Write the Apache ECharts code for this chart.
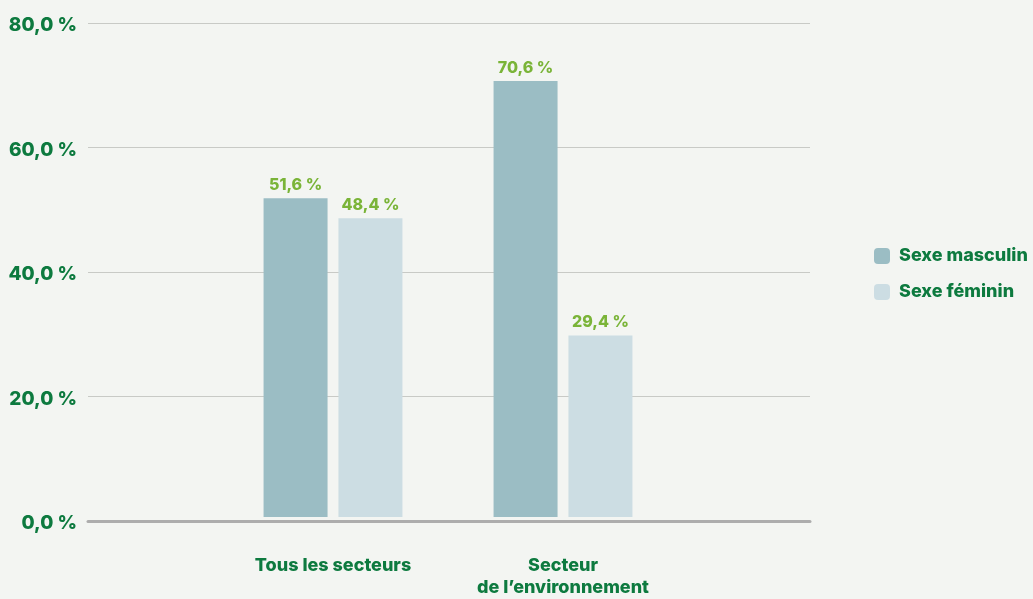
<!DOCTYPE html>
<html>
<head>
  <meta charset="utf-8">
  <title>ECharts</title>
  <script src="https://cdn.jsdelivr.net/npm/echarts@6/dist/echarts.min.js"></script>
  <style>
    html, body { margin: 0; padding: 0; background: #f3f5f2; }
  </style>
</head>
<body>
<div id="main" style="width: 1033px;height:599px;"></div>
<script type="text/javascript">
  var categories = ['Tous les secteurs', 'Secteur\nde l\u2019environnement'];
  var masculin = [51.6, 70.6];
  var feminin = [48.4, 29.4];
  var seriesNames = ['Sexe masculin', 'Sexe féminin'];

  var green = '#0d7a3f';
  var labelGreen = '#7ab438';
  var font = 'Inter';

  function pct(v) {
    return v.toFixed(1).replace('.', ',') + ' %';
  }

  var myChart = echarts.init(document.getElementById('main'));

  var barLabel = {
    show: true,
    position: 'top',
    distance: 5,
    color: labelGreen,
    fontFamily: font,
    fontWeight: 800,
    fontSize: 16,
    formatter: function (p) { return pct(p.value); }
  };

  var option = {
    backgroundColor: '#f3f5f2',
    animation: false,
    legend: {
      orient: 'vertical',
      left: 869,
      top: 242,
      itemWidth: 16,
      itemHeight: 16,
      itemGap: 18,
      icon: 'roundRect',
      textStyle: {
        color: green, fontFamily: font, fontWeight: 800, fontSize: 18,
        padding: [0, 0, 0, 4]
      },
      data: seriesNames
    },
    grid: [
      { left: 88, right: 223, top: 23, bottom: 78 },
      { left: 218, width: 460, top: 23, bottom: 78 }
    ],
    xAxis: [
      {
        gridIndex: 0, type: 'value', min: 0, max: 1,
        axisLabel: { show: false }, axisTick: { show: false }, splitLine: { show: false },
        axisLine: { show: true, lineStyle: { color: '#adadad', width: 3 } },
        z: 5
      },
      {
        gridIndex: 1, type: 'category', data: categories,
        axisLine: { show: false }, axisTick: { show: false },
        axisLabel: {
          margin: 38, color: green, fontFamily: font, fontWeight: 800,
          fontSize: 18, lineHeight: 22
        }
      }
    ],
    yAxis: [
      {
        gridIndex: 0, type: 'value', min: 0, max: 80, interval: 20,
        axisLine: { show: false }, axisTick: { show: false },
        splitLine: { lineStyle: { color: '#c8cac6', width: 1 } },
        axisLabel: {
          margin: 11, color: green, fontFamily: font, fontWeight: 800, fontSize: 19,
          verticalAlign: 'top', lineHeight: 5,
          formatter: function (v) { return pct(v); }
        }
      },
      {
        gridIndex: 1, type: 'value', min: 0, max: 80, interval: 20, show: false,
        splitLine: { show: false }
      }
    ],
    series: [
      {
        name: seriesNames[0], type: 'bar', xAxisIndex: 1, yAxisIndex: 1,
        data: masculin, barWidth: 64, barGap: '17%',
        itemStyle: { color: '#9bbdc4' }, label: barLabel
      },
      {
        name: seriesNames[1], type: 'bar', xAxisIndex: 1, yAxisIndex: 1,
        data: feminin, barWidth: 64, barGap: '17%',
        itemStyle: { color: '#ccdde3' }, label: barLabel
      }
    ]
  };

  myChart.setOption(option);
</script>
</body>
</html>
